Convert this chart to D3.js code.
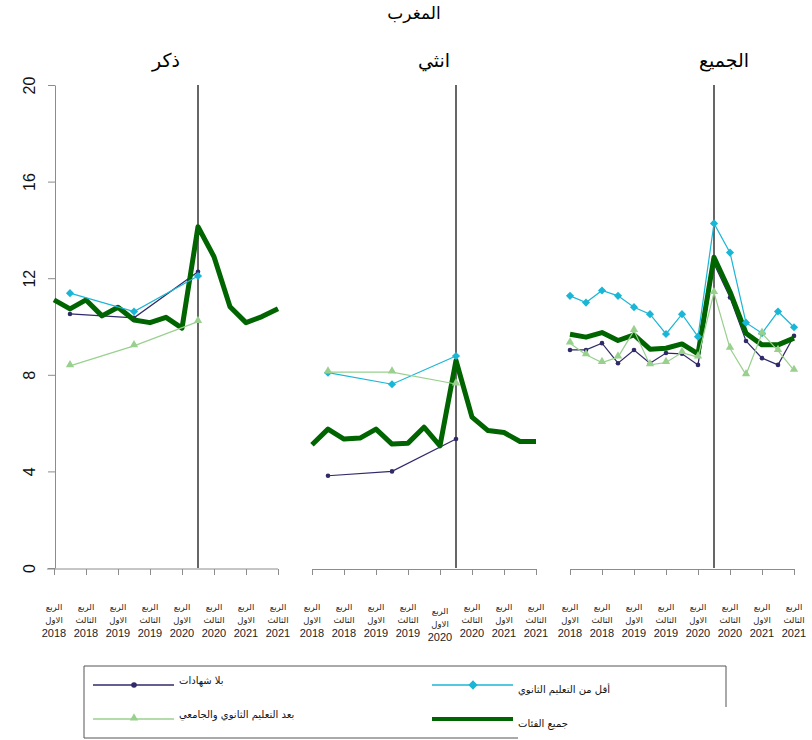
<!DOCTYPE html>
<html lang="ar">
<head>
<meta charset="UTF-8">
<title>المغرب</title>
<script src="https://d3js.org/d3.v7.min.js"></script>
<style>
    body { margin: 0; background: #fff; }
    svg { display: block; }
    .axis path, .axis line { stroke: #8c8c8c; }
    .tick-lbl { font-family: "DejaVu Sans", Arial, sans-serif; fill: #222; }
</style>
</head>
<body>
<svg id="chart" width="812" height="740"></svg>
<script>
// quarters Q1 2018 .. Q3 2021 (15 points), annual points sit at Q2 of each year
const quarterIdx = d3.range(15);
const annualIdx = [1, 5, 9];

const tickIdx = [0, 2, 4, 6, 8, 10, 12, 14];
const tickLabels = [
    ["الربع", "الاول", "2018"], ["الربع", "الثالث", "2018"],
    ["الربع", "الاول", "2019"], ["الربع", "الثالث", "2019"],
    ["الربع", "الاول", "2020"], ["الربع", "الثالث", "2020"],
    ["الربع", "الاول", "2021"], ["الربع", "الثالث", "2021"]
];

const panelTitles = ["ذكر", "انثي", "الجميع"];
const seriesNames = ["بلا شهادات", "بعد التعليم الثانوي والجامعي", "أقل من التعليم الثانوي", "جميع الفئات"];

// ذكر
const maleNone = [10.52, 10.36, 12.27];
const maleLess = [11.38, 10.62, 12.09];
const malePost = [8.37, 9.2, 10.2];
const maleAll = [11.1, 10.73, 11.1, 10.44, 10.8, 10.27, 10.16, 10.38, 9.93, 14.13, 12.89, 10.82, 10.16, 10.41, 10.73];

// انثي
const femaleNone = [3.82, 4.0, 5.34];
const femaleLess = [8.09, 7.61, 8.78];
const femalePost = [8.11, 8.11, 7.62];
const femaleAll = [5.1, 5.75, 5.34, 5.38, 5.75, 5.13, 5.17, 5.83, 5.06, 8.59, 6.25, 5.69, 5.61, 5.24, 5.24];

// الجميع
const allNone = [9.03, 9.03, 9.31, 8.48, 9.03, 8.48, 8.9, 8.87, 8.41, 12.6, 11.2, 9.4, 8.69, 8.41, 9.61];
const allLess = [11.27, 10.99, 11.49, 11.27, 10.8, 10.51, 9.69, 10.51, 9.58, 14.27, 13.06, 10.16, 9.72, 10.62, 9.97];
const allPost = [9.31, 8.83, 8.51, 8.73, 9.83, 8.41, 8.51, 8.92, 8.73, 11.4, 9.1, 8.0, 9.72, 9.0, 8.18];
const allAll = [9.68, 9.56, 9.75, 9.42, 9.65, 9.06, 9.1, 9.28, 8.87, 12.87, 11.44, 9.72, 9.24, 9.24, 9.52];

const yTicks = [0, 4, 8, 12, 16, 20];
const breakIdx = 9; // Q2 2020

// styles
const colNone = "#302a68", colLess = "#1ab6d6", colPost = "#99d08e", colAll = "#006400";

const panels = [
    {x0: 54, titleX: 166, none: maleNone, less: maleLess, post: malePost, all: maleAll, idx: annualIdx},
    {x0: 312, titleX: 434, none: femaleNone, less: femaleLess, post: femalePost, all: femaleAll, idx: annualIdx},
    {x0: 570, titleX: 724, none: allNone, less: allLess, post: allPost, all: allAll, idx: quarterIdx}
];
const panelW = 224;
const titleFont = "'DejaVu Sans', sans-serif";

const svg = d3.select("#chart");
const y = d3.scaleLinear().domain([0, 20]).range([568, 85]);

svg.append("text")
    .attr("x", 414).attr("y", 19)
    .attr("text-anchor", "middle")
    .style("font-family", titleFont)
    .style("font-weight", "normal")
    .style("font-size", "17px")
    .text("المغرب");

// y axis (first panel only)
const yAxis = svg.append("g")
    .attr("class", "axis")
    .attr("transform", "translate(55,0)")
    .call(d3.axisLeft(y).tickValues(yTicks).tickSize(7).tickSizeOuter(0).tickFormat(d3.format("d")));
yAxis.selectAll("text")
    .attr("transform", "rotate(-90)")
    .attr("x", 0)
    .attr("y", -26)
    .attr("dy", "0.35em")
    .attr("text-anchor", "middle")
    .style("font-family", "Arial, 'Liberation Sans', sans-serif")
    .style("font-size", "16px")
    .style("fill", "#111");

const line = (xs, vals, idx) => d3.line()
    .x((d, i) => xs(idx[i]))
    .y(d => y(d))(vals);

panels.forEach((p, k) => {
    const x = d3.scaleLinear().domain([0, 14]).range([p.x0, p.x0 + panelW]);
    const g = svg.append("g");

    g.append("text")
        .attr("x", p.titleX).attr("y", 67)
        .attr("text-anchor", "middle")
        .style("font-family", titleFont)
        .style("font-weight", "normal")
        .style("font-size", "19px")
        .text(panelTitles[k]);

    const xAxis = g.append("g")
        .attr("class", "axis")
        .attr("transform", "translate(0,569)")
        .call(d3.axisBottom(x).tickValues(tickIdx).tickSize(6).tickSizeOuter(0).tickFormat(""));
    if (k === 0) xAxis.select(".domain").attr("d", `M47,0H${p.x0 + panelW}`);

    // quarter labels
    tickIdx.forEach((t, i) => {
        const lbl = g.append("text")
            .attr("class", "tick-lbl")
            .attr("text-anchor", "middle")
            .attr("x", x(t));
        const shift = (k === 1 && i === 4) ? 4 : 0;
        lbl.append("tspan").attr("x", x(t)).attr("y", 610 + shift)
            .style("font-size", "8.5px").text(tickLabels[i][0]);
        lbl.append("tspan").attr("x", x(t)).attr("y", 623 + shift)
            .style("font-size", "8.5px").text(tickLabels[i][1]);
        lbl.append("tspan").attr("x", x(t)).attr("y", 637 + shift)
            .style("font-family", "Arial, 'Liberation Sans', sans-serif")
            .style("font-size", "11px").text(tickLabels[i][2]);
    });

    // break line
    g.append("line")
        .attr("x1", x(breakIdx)).attr("x2", x(breakIdx))
        .attr("y1", y(20)).attr("y2", y(0))
        .attr("stroke", "#000").attr("stroke-width", 1.2);

    // navy, no diploma
    g.append("path").attr("d", line(x, p.none, p.idx))
        .attr("fill", "none").attr("stroke", colNone).attr("stroke-width", 1.2);
    g.selectAll(".mNone").data(p.none).enter().append("circle")
        .attr("cx", (d, i) => x(p.idx[i])).attr("cy", d => y(d))
        .attr("r", 2.3).attr("fill", colNone);

    // all categories, thick
    g.append("path").attr("d", line(x, p.all, quarterIdx))
        .attr("fill", "none").attr("stroke", colAll).attr("stroke-width", 5)
        .attr("stroke-linejoin", "round");

    // less than secondary
    g.append("path").attr("d", line(x, p.less, p.idx))
        .attr("fill", "none").attr("stroke", colLess).attr("stroke-width", 1.2);
    g.selectAll(".mLess").data(p.less).enter().append("path")
        .attr("transform", (d, i) => `translate(${x(p.idx[i])},${y(d)})`)
        .attr("d", d3.symbol(d3.symbolDiamond2, 42)())
        .attr("fill", colLess);

    // post secondary
    g.append("path").attr("d", line(x, p.post, p.idx))
        .attr("fill", "none").attr("stroke", colPost).attr("stroke-width", 1.2);
    g.selectAll(".mPost").data(p.post).enter().append("path")
        .attr("transform", (d, i) => `translate(${x(p.idx[i])},${y(d) - 1})`)
        .attr("d", d3.symbol(d3.symbolTriangle, 30)())
        .attr("fill", colPost);
});

// legend
const lg = svg.append("g");
lg.append("path")
    .attr("d", "M518,738H84V666H726V707")
    .attr("fill", "none").attr("stroke", "#555").attr("stroke-width", 1);

const legendItems = [
    {name: seriesNames[0], col: colNone, x: 93, y: 685, mark: "circle"},
    {name: seriesNames[1], col: colPost, x: 93, y: 719, mark: "tri"},
    {name: seriesNames[2], col: colLess, x: 432, y: 685, mark: "diamond"},
    {name: seriesNames[3], col: colAll, x: 432, y: 719, mark: "none"}
];
legendItems.forEach(it => {
    lg.append("line")
        .attr("x1", it.x).attr("x2", it.x + 81)
        .attr("y1", it.y).attr("y2", it.y)
        .attr("stroke", it.col).attr("stroke-width", it.mark === "none" ? 4 : 1.5);
    const cx = it.x + 41;
    if (it.mark === "circle") {
        lg.append("circle").attr("cx", cx).attr("cy", it.y).attr("r", 2.8).attr("fill", it.col);
    } else if (it.mark === "diamond") {
        lg.append("path").attr("transform", `translate(${cx},${it.y})`)
            .attr("d", d3.symbol(d3.symbolDiamond2, 55)()).attr("fill", it.col);
    } else if (it.mark === "tri") {
        lg.append("path").attr("transform", `translate(${cx},${it.y - 1})`)
            .attr("d", d3.symbol(d3.symbolTriangle, 30)()).attr("fill", it.col);
    }
    const left = it.x < 200;
    lg.append("text")
        .attr("x", it.x + 86)
        .attr("y", left ? it.y - 1 : it.y + 8)
        .attr("text-anchor", "start")
        .style("font-family", "'DejaVu Sans', Arial, sans-serif")
        .style("font-size", "10px")
        .style("fill", "#111")
        .style("direction", "ltr")
        .text(it.name);
});
</script>
</body>
</html>
